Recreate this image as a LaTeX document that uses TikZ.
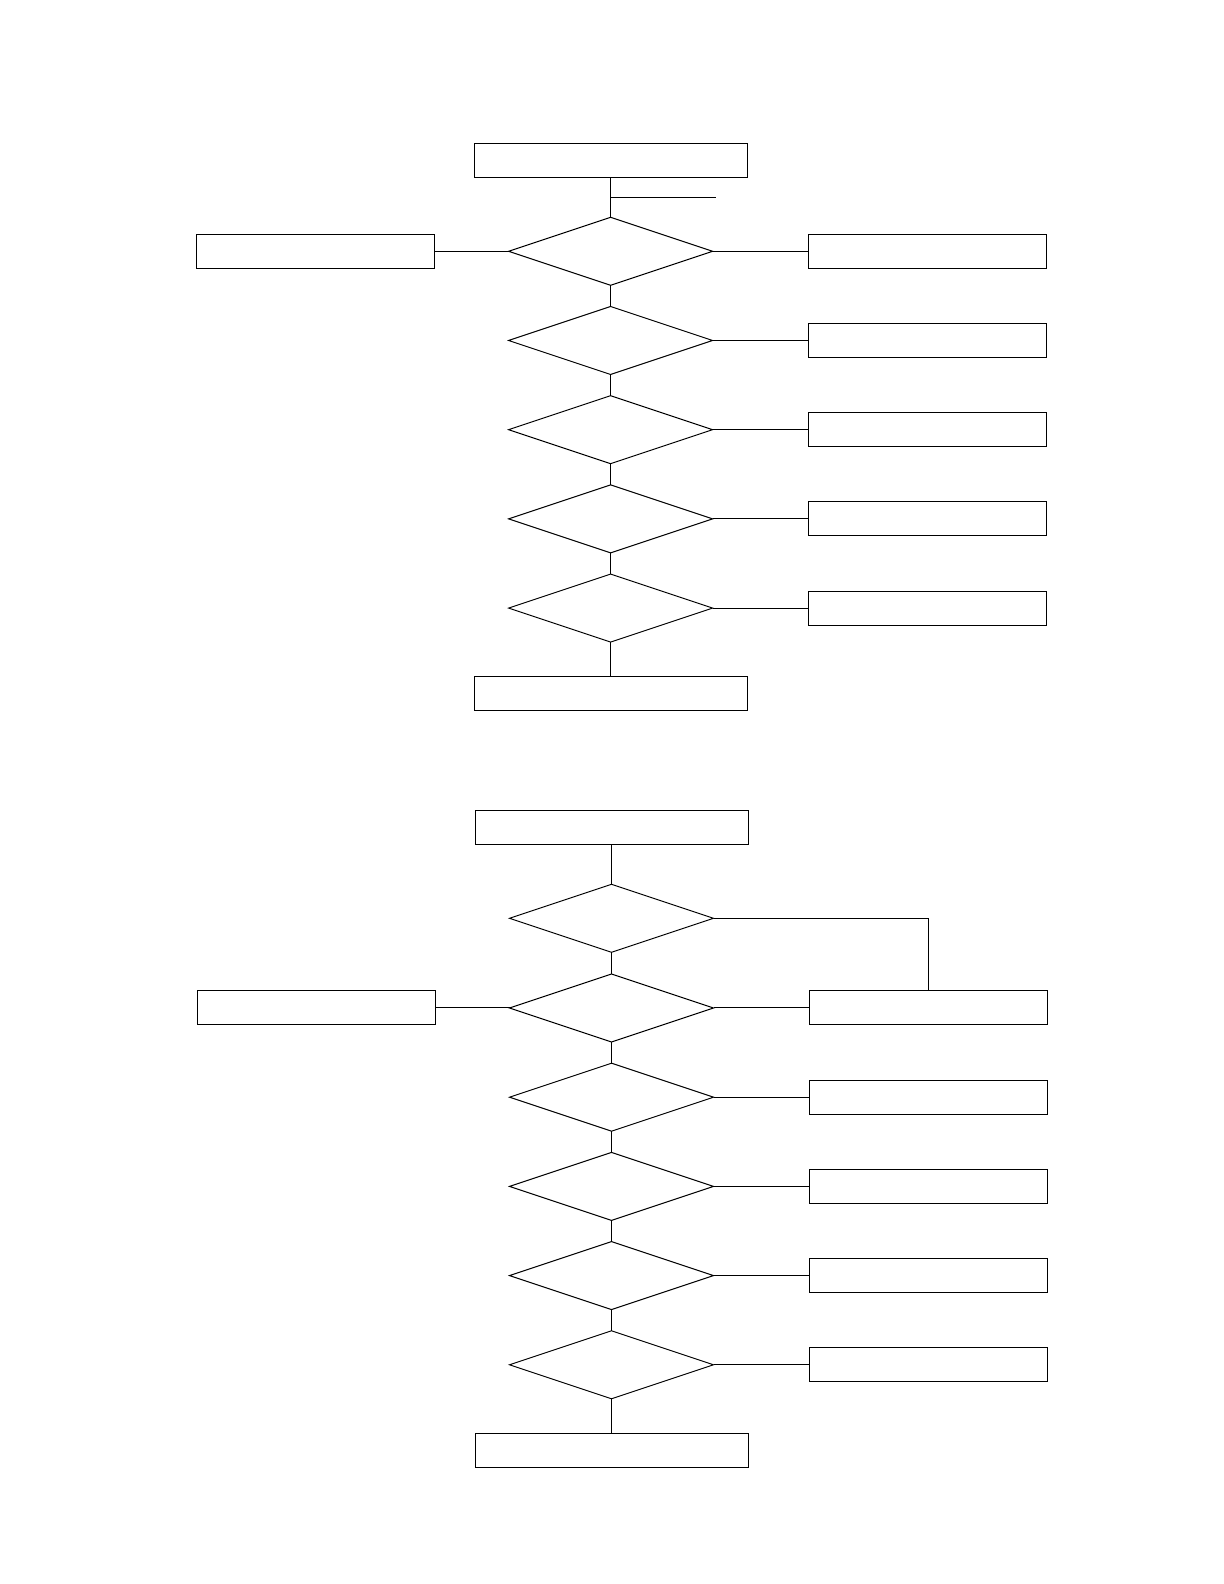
\documentclass[tikz,border=0pt]{standalone}
\usepackage{tikz}
\usetikzlibrary{positioning,calc,shapes.geometric}

\begin{document}
\begin{tikzpicture}[
   line width=0.5pt,
   block/.style={draw, minimum width=136.5pt, minimum height=17pt,
                 inner sep=0pt, outer sep=0pt},
   side/.style={draw, minimum width=119pt, minimum height=17pt,
                inner sep=0pt, outer sep=0pt},
   decision/.style={draw, diamond, aspect=3, minimum width=102pt,
                    minimum height=34pt, inner sep=0pt, outer sep=0pt}]
  \useasboundingbox (0,0) rectangle (612pt,792pt);

  % first chart
  \node[block] (atop) at (305.3pt,711.85pt) {};
  \node[decision, below=20pt of atop] (aq1) {};
  \node[decision, below=10.6pt of aq1] (aq2) {};
  \node[decision, below=10.6pt of aq2] (aq3) {};
  \node[decision, below=10.6pt of aq3] (aq4) {};
  \node[decision, below=10.6pt of aq4] (aq5) {};
  \node[block, below=17pt of aq5] (aend) {};
  \node[side, left=37pt of aq1] (aleft) {};
  \node[side, right=48pt of aq1] (ares1) {};
  \node[side, right=48pt of aq2] (ares2) {};
  \node[side, right=48pt of aq3] (ares3) {};
  \node[side, right=48pt of aq4] (ares4) {};
  \node[side, right=48pt of aq5] (ares5) {};
  \coordinate (amid) at ($(atop.south)!0.5!(aq1.north)$);
  \coordinate (astub) at ($(amid)+(52.5pt,0)$);

  \draw (atop) -- (aq1);
  \draw (amid) -- (astub);
  \draw (aq1) -- (aq2);
  \draw (aq2) -- (aq3);
  \draw (aq3) -- (aq4);
  \draw (aq4) -- (aq5);
  \draw (aq5) -- (aend);
  \draw (aq1) -- (aleft);
  \draw (aq1) -- (ares1);
  \draw (aq2) -- (ares2);
  \draw (aq3) -- (ares3);
  \draw (aq4) -- (ares4);
  \draw (aq5) -- (ares5);

  % second chart
  \node[block] (btop) at (305.75pt,378.35pt) {};
  \node[decision, below=20pt of btop] (bq1) {};
  \node[decision, below=10.85pt of bq1] (bq2) {};
  \node[decision, below=10.6pt of bq2] (bq3) {};
  \node[decision, below=10.6pt of bq3] (bq4) {};
  \node[decision, below=10.6pt of bq4] (bq5) {};
  \node[decision, below=10.6pt of bq5] (bq6) {};
  \node[block, below=17.5pt of bq6] (bend) {};
  \node[side, left=37pt of bq2] (bleft) {};
  \node[side, right=48pt of bq2] (bres2) {};
  \node[side, right=48pt of bq3] (bres3) {};
  \node[side, right=48pt of bq4] (bres4) {};
  \node[side, right=48pt of bq5] (bres5) {};
  \node[side, right=48pt of bq6] (bres6) {};

  \draw (btop) -- (bq1);
  \draw (bq1) -- (bq2);
  \draw (bq2) -- (bq3);
  \draw (bq3) -- (bq4);
  \draw (bq4) -- (bq5);
  \draw (bq5) -- (bq6);
  \draw (bq6) -- (bend);
  \draw (bq1.east) -| (bres2.north);
  \draw (bq2) -- (bleft);
  \draw (bq2) -- (bres2);
  \draw (bq3) -- (bres3);
  \draw (bq4) -- (bres4);
  \draw (bq5) -- (bres5);
  \draw (bq6) -- (bres6);
\end{tikzpicture}
\end{document}
